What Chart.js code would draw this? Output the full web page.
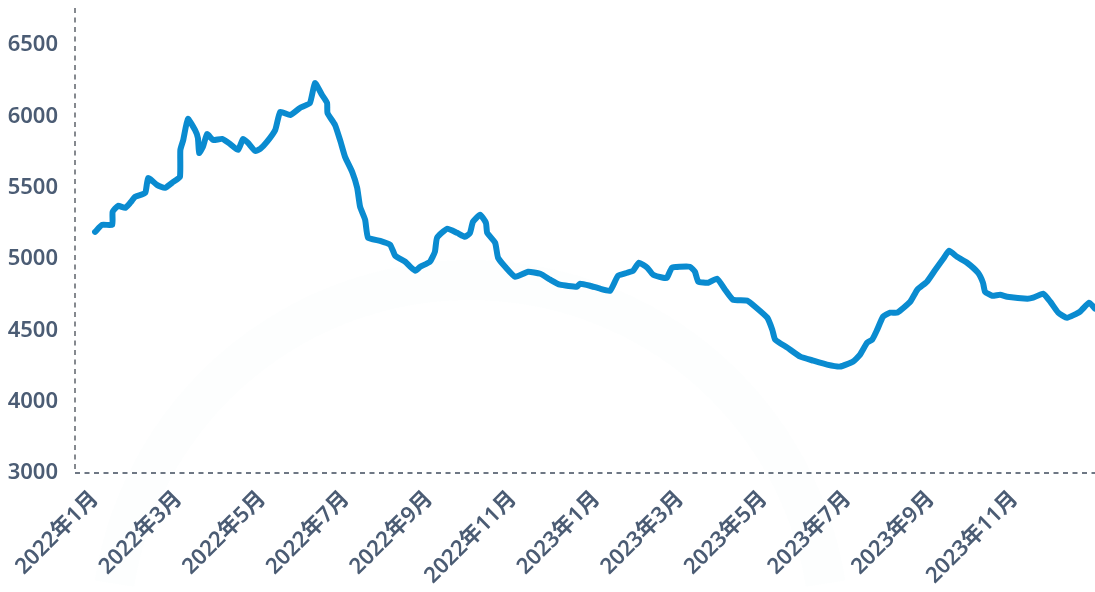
<!DOCTYPE html>
<html>
<head>
<meta charset="utf-8">
<script src="https://cdn.jsdelivr.net/npm/chart.js@4"></script>
<style>
html,body{margin:0;padding:0;background:#fff;}
#wrap{width:1095px;height:592px;position:relative;}
</style>
</head>
<body>
<div id="wrap"><canvas id="chart" width="1095" height="592"></canvas></div>
<script>
/* DATA */

// month index from 2022年1月 (0) and price
const months=[0,0.17,0.41,0.42,0.55,0.72,0.84,0.96,1.2,1.27,1.48,1.67,1.87,2.03,2.04,2.11,2.22,2.39,2.46,2.49,
2.58,2.68,2.82,3.04,3.23,3.42,3.54,3.66,3.83,3.95,4.11,4.31,4.43,4.67,4.9,5.14,5.26,5.43,5.55,5.56,
5.74,5.86,5.98,6.15,6.27,6.34,6.46,6.53,6.82,7.06,7.18,7.42,7.54,7.66,7.78,8.01,8.13,8.18,8.42,8.66,
8.85,8.97,9.04,9.21,9.35,9.38,9.57,9.64,9.81,10.05,10.36,10.65,10.89,11.12,11.53,11.6,11.84,12.08,12.32,12.51,
12.73,12.87,13.01,13.21,13.35,13.59,13.68,13.8,13.99,14.23,14.35,14.43,14.67,14.88,15.07,15.26,15.6,15.79,16.08,16.2,
16.27,16.56,16.87,17.18,17.51,17.82,18.13,18.3,18.47,18.59,18.71,18.85,19.02,19.19,19.5,19.67,19.9,20.1,20.29,20.43,
20.62,20.86,21.12,21.24,21.29,21.46,21.65,21.82,22.3,22.44,22.68,22.85,23.04,23.25,23.56,23.78,23.92];

const prices=[5190,5240,5240,5331,5373,5359,5394,5436,5464,5569,5520,5499,5541,5576,5765,5835,5982,5905,5849,5744,
5786,5877,5835,5842,5807,5765,5842,5814,5758,5772,5821,5905,6031,6010,6059,6094,6234,6150,6094,6024,
5940,5835,5716,5611,5499,5366,5275,5149,5128,5100,5023,4981,4946,4918,4946,4981,5051,5149,5212,5184,
5156,5184,5261,5310,5254,5184,5114,5009,4946,4876,4911,4897,4855,4820,4806,4827,4813,4792,4778,4883,
4904,4918,4974,4939,4890,4869,4869,4939,4946,4946,4911,4841,4834,4862,4785,4715,4708,4666,4589,4505,
4435,4379,4316,4288,4260,4246,4281,4330,4414,4435,4505,4596,4624,4624,4701,4785,4841,4925,5002,5058,
5016,4974,4904,4834,4771,4743,4750,4736,4722,4729,4757,4701,4624,4589,4631,4694,4652];

const xTickPos=[0,2,4,6,8,10,12,14,16,18,20,22];
const xTickLabels=["2022年1月","2022年3月","2022年5月","2022年7月","2022年9月","2022年11月",
"2023年1月","2023年3月","2023年5月","2023年7月","2023年9月","2023年11月"];

const yTickPos=[3500,4000,4500,5000,5500,6000,6500];
const yTickLabels=["3000","4000","4500","5000","5500","6000","6500"];

/* CHART */

const textColor="#4b5c74";
const font={family:"'Noto Sans','Noto Sans CJK SC',sans-serif",size:22,weight:"600"};

// faint watermark ring + dashed axis lines
const decor={
id:"decor",
beforeDraw(chart){
const c=chart.ctx;
c.save();
c.strokeStyle="rgba(120,130,150,0.012)";
c.lineWidth=40;
c.beginPath();
c.arc(470,640,360,Math.PI*1.05,Math.PI*1.95);
c.stroke();
c.restore();
},
afterDraw(chart){
const a=chart.chartArea;
const c=chart.ctx;
c.save();
c.lineWidth=1.5;
c.setLineDash([5,4.5]);
c.strokeStyle="#5d636b";
c.beginPath();
c.moveTo(a.left,a.top);
c.lineTo(a.left,a.bottom);
c.stroke();
c.strokeStyle="#3f4b5c";
c.beginPath();
c.moveTo(a.left,a.bottom);
c.lineTo(a.right,a.bottom);
c.stroke();
c.restore();
}
};

const ctx=document.getElementById("chart");

new Chart(ctx,{
type:"line",
data:{
datasets:[{
data:months.map((m,i)=>({x:m,y:prices[i]})),
borderColor:"#0a8bd0",
borderWidth:6,
pointRadius:0,
tension:0.15,
borderJoinStyle:"round",
borderCapStyle:"round"
}]
},
options:{
responsive:false,
animation:false,
layout:{padding:{top:8,right:0,left:0,bottom:0}},
plugins:{legend:{display:false},tooltip:{enabled:false}},
scales:{
x:{
type:"linear",
min:-0.48,
max:23.92,
grid:{display:false,drawTicks:false},
border:{display:false},
afterBuildTicks:(s)=>{s.ticks=xTickPos.map(v=>({value:v}));},
afterFit:(s)=>{s.height=119;s.paddingLeft=0;s.paddingRight=0;},
ticks:{
color:textColor,
font:font,
maxRotation:45,
minRotation:45,
padding:13,
callback:(v)=>xTickLabels[xTickPos.indexOf(v)]
}
},
y:{
min:3500,
max:6760,
grid:{display:false,drawTicks:false},
border:{display:false},
afterBuildTicks:(s)=>{s.ticks=yTickPos.map(v=>({value:v}));},
afterFit:(s)=>{s.width=75;s.paddingTop=0;s.paddingBottom=0;},
ticks:{
color:textColor,
font:font,
padding:17,
callback:(v)=>yTickLabels[yTickPos.indexOf(v)]
}
}
}
},
plugins:[decor]
});
</script>
</body>
</html>
